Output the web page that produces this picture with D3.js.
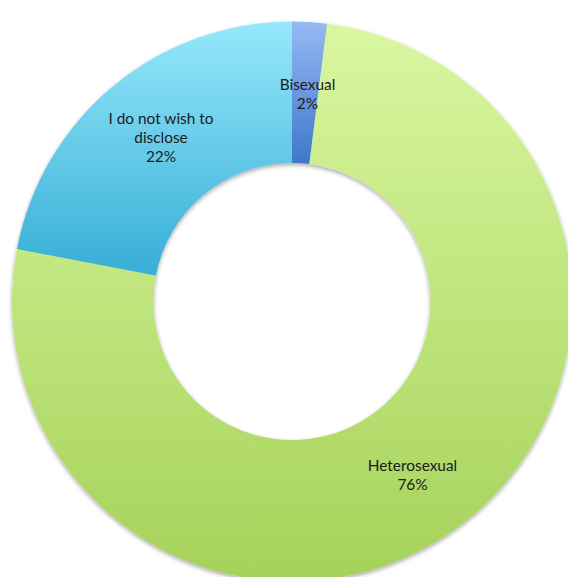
<!DOCTYPE html>
<html>
<head>
<meta charset="utf-8">
<script src="https://cdn.jsdelivr.net/npm/d3@7"></script>
<style>
  html, body { margin: 0; padding: 0; background: #ffffff; }
  svg { display: block; }
</style>
</head>
<body>
<div id="chart"></div>
<script>
// Survey responses: sexual orientation
const categories = ["Bisexual", "Heterosexual", "I do not wish to disclose"];
const values = [2, 76, 22];
const labelLines = [["Bisexual", "2%"], ["Heterosexual", "76%"], ["I do not wish to", "disclose", "22%"]];
// top / bottom gradient stops per slice
const colorsTop = ["#96b9f4", "#d9f7a0", "#96e8fb"];
const colorsBottom = ["#3f77cb", "#a5d25a", "#36aed6"];

const width = 568, height = 577;
const cx = 292, cy = 301.5;
const outerR = 280, innerR = 138.5;

const svg = d3.select("#chart").append("svg")
  .attr("width", width).attr("height", height);

const defs = svg.append("defs");
const shadow = defs.append("filter").attr("id", "ringShadow")
  .attr("x", "-10%").attr("y", "-10%").attr("width", "120%").attr("height", "120%");
shadow.append("feDropShadow")
  .attr("dx", 0).attr("dy", 2).attr("stdDeviation", 2)
  .attr("flood-color", "#000").attr("flood-opacity", 0.35);

categories.forEach((c, i) => {
  const g = defs.append("linearGradient").attr("id", "grad" + i)
    .attr("x1", 0).attr("y1", 0).attr("x2", 0).attr("y2", 1);
  g.append("stop").attr("offset", "0%").attr("stop-color", colorsTop[i]);
  g.append("stop").attr("offset", "100%").attr("stop-color", colorsBottom[i]);
});

const pie = d3.pie().sort(null).value(d => d);
const arcs = pie(values);
const arc = d3.arc().innerRadius(innerR).outerRadius(outerR);

const ring = svg.append("g")
  .attr("transform", `translate(${cx},${cy})`)
  .attr("filter", "url(#ringShadow)");

ring.selectAll("path")
  .data(arcs)
  .join("path")
  .attr("d", arc)
  .attr("fill", (d, i) => `url(#grad${i})`);

// label anchor points (centre of each text block, relative to the ring centre)
const labelPos = [[15.5, -206], [120.5, 175], [-131, -163]];
const lineH = 19;

const labels = svg.append("g")
  .attr("transform", `translate(${cx},${cy})`)
  .attr("font-family", "Lato, 'Open Sans', sans-serif")
  .attr("font-size", 15.4)
  .attr("fill", "#1c1c1c")
  .attr("text-anchor", "middle");

labelLines.forEach((lines, i) => {
  const [lx, ly] = labelPos[i];
  const t = labels.append("text")
    .attr("x", lx)
    .attr("y", ly - (lines.length - 1) * lineH / 2)
    .attr("dominant-baseline", "middle");
  lines.forEach((ln, j) => {
    t.append("tspan").attr("x", lx).attr("dy", j === 0 ? 0 : lineH).text(ln);
  });
});
</script>
</body>
</html>
